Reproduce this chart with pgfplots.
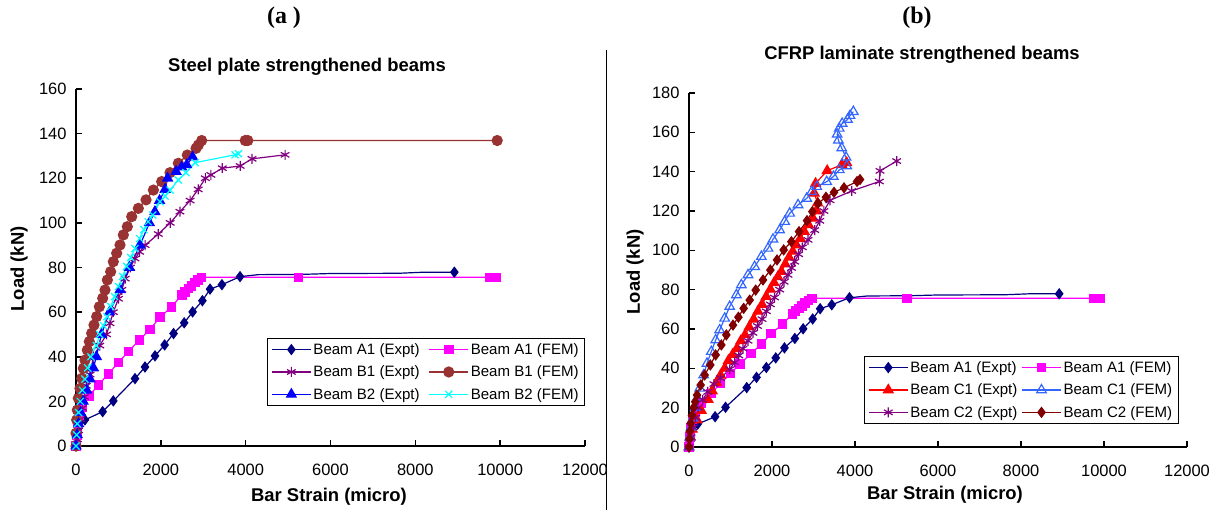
\documentclass[border=0pt]{standalone}
\usepackage{fontspec}
\setmainfont{Liberation Sans}
\newfontfamily\serifb{Liberation Serif}
\usepackage{pgfplots}
\pgfplotsset{compat=1.18}
\definecolor{cnavy}{RGB}{0,0,128}
\definecolor{cmag}{RGB}{255,0,255}
\definecolor{cpur}{RGB}{128,0,128}
\definecolor{cmar}{RGB}{128,0,0}
\definecolor{cmarl}{RGB}{153,51,51}
\definecolor{cblue}{RGB}{0,0,255}
\definecolor{ccyan}{RGB}{0,255,255}
\definecolor{cred}{RGB}{255,0,0}
\definecolor{clblue}{RGB}{51,102,255}
\pgfplotsset{
 mystyle/.style={
  scale only axis, xmin=0, xmax=12000, ymin=0,
  axis x line*=bottom, axis y line*=left,
  axis line style={line width=2.2bp,-},
  tick align=inside, major tick length=6bp,
  every tick/.style={black,line width=1.6bp},
  xtick={0,2000,...,12000},
  tick label style={font=\fontsize{16.5}{18}\selectfont},
  xticklabel style={yshift=-15bp},
  yticklabel style={xshift=-6bp},
  /pgf/number format/assume math mode=true,
  /pgf/number format/1000 sep={},
  scaled x ticks=false,
  clip=false,
  every axis plot/.append style={line width=1.2bp},
  every axis plot post/.append style={mark options={solid}},
  legend columns=2,
  legend cell align=left,
  legend style={font=\fontsize{15.1}{17}\selectfont, draw=black, line width=0.8bp, anchor=north west, inner xsep=4bp, inner ysep=3bp, row sep=6bp},
  legend image code/.code={\draw[mark repeat=2,mark phase=2,##1] plot coordinates {(0bp,0bp) (19.5bp,0bp) (39bp,0bp)};},
 },
 sA1E/.style={color=cnavy, mark=diamond*, mark size=4.8bp, mark options={fill=cnavy}},
 sA1F/.style={color=cmag, mark=square*, mark size=4.2bp, mark options={fill=cmag}},
}
\begin{document}
\begin{tikzpicture}
\useasboundingbox (0bp,0bp) rectangle (1224bp,510bp);
\node[font=\serifb\bfseries\fontsize{24}{26}\selectfont] at (284bp,492bp) {(a )};
\node[font=\serifb\bfseries\fontsize{24}{26}\selectfont] at (917bp,492bp) {(b)};
\draw[line width=0.8bp] (606bp,0bp) -- (606bp,460bp);
\node[font=\bfseries\fontsize{18.5}{20}\selectfont] at (307bp,443bp) {Steel plate strengthened beams};
\node[font=\bfseries\fontsize{18.5}{20}\selectfont] at (922bp,455bp) {CFRP laminate strengthened beams};
\node[font=\bfseries\fontsize{18.5}{20}\selectfont, rotate=90] at (19bp,241bp) {Load (kN)};
\node[font=\bfseries\fontsize{18.5}{20}\selectfont] at (329bp,13bp) {Bar Strain (micro)};
\node[font=\bfseries\fontsize{18.5}{20}\selectfont, rotate=90] at (635bp,238bp) {Load (kN)};
\node[font=\bfseries\fontsize{18.5}{20}\selectfont] at (945bp,15bp) {Bar Strain (micro)};

\begin{axis}[mystyle, at={(76bp,64bp)}, anchor=south west, width=509bp, height=357bp,
  ymax=160, ytick={0,20,...,160},
  legend style={at={(0.375,0.3025)}, /tikz/every even column/.append style={column sep=7bp}}]
\addplot[sA1E] coordinates {(0,0) (30,4) (60,8) (210,11.7) (629,15.4) (880,20.2) (1391,30.2) (1627,35.4) (1863,40.4) (2090,45.3) (2300,50.4) (2550,55.2) (2750,60.1) (2980,65.1) (3160,70.3) (3440,72.3) (3867,75.9)};
\addlegendentry{Beam A1 (Expt)}
\addplot[sA1F] coordinates {(0,0) (20,5) (40,10) (80,14) (157,17.6) (300,22.3) (527,27.3) (762,32.3) (998,37.4) (1234,42.3) (1493,47.5) (1745,52.3) (1981,57.7) (2256,62.4) (2492,67.7) (2570,69) (2650,70.5) (2720,71.8) (2800,73.2) (2880,74.5) (2963,75.6) (5250,75.6) (9750,75.6) (9900,75.6)};
\addlegendentry{Beam A1 (FEM)}
\addplot[color=cpur, mark=asterisk, mark size=5bp] coordinates {(0,0) (30,3) (60,7) (100,12) (150,17) (200,22) (240,27) (330,32) (410,40) (560,45) (720,50) (800,55) (880,60) (1000,66) (1080,70) (1160,75) (1280,80) (1390,84) (1500,87) (1630,90) (1940,95) (2220,100) (2450,105) (2690,110) (2880,115) (3050,120) (3180,121.5) (3450,124.5) (3870,125.5) (4150,128.7) (4930,130.5)};
\addlegendentry{Beam B1 (Expt)}
\addplot[color=cmarl, mark=*, mark size=5bp, mark options={fill=cmar,draw=cmar}] coordinates {(0,0) (0,5.7) (16,11.7) (31,16.1) (55,21.4) (94,25.8) (134,30.3) (173,34.8) (212,38.5) (267,43) (314,46.8) (369,50.5) (424,54.2) (487,58) (550,62.4) (629,66.2) (684,69.9) (739,74.4) (817,78.1) (880,82.6) (959,86.4) (1038,90.1) (1116,94.6) (1210,98.3) (1313,102.8) (1470,106.5) (1651,110.3) (1824,114.7) (2020,118.5) (2217,122.5) (2413,126.7) (2625,130.4) (2830,133.4) (2885,134.9) (2963,136.9) (3990,136.9) (4050,136.9) (9930,136.9)};
\addlegendentry{Beam B1 (FEM)}
\addplot[color=cblue, mark=triangle*, mark size=5.5bp, mark options={fill=cblue}] coordinates {(0,0) (30,5) (60,10) (110,15) (170,20) (250,25) (330,30) (410,35) (480,40) (600,50) (790,60) (1040,70) (1260,80) (1510,90) (1730,100) (1860,105) (1970,110) (2100,115) (2160,120) (2360,123) (2490,125) (2610,126) (2750,129.5)};
\addlegendentry{Beam B2 (Expt)}
\addplot[color=ccyan, mark=x, mark size=5bp] coordinates {(0,0) (15,5) (30,10) (60,15) (100,20) (150,25) (210,30) (275,35) (350,40) (480,45) (560,50) (645,54) (730,58) (818,62.5) (910,67) (1000,71.5) (1100,76) (1195,80.5) (1290,84.5) (1390,88.5) (1500,93) (1600,97) (1700,100.5) (1810,103.5) (1980,109.5) (2100,112) (2220,114.7) (2410,119.2) (2590,122.5) (2810,127) (3750,130.5) (3830,131)};
\addlegendentry{Beam B2 (FEM)}
\addplot[sA1E, forget plot, mark indices={7}] coordinates {(3867,75.9) (4300,76.8) (5300,76.9) (6000,77.3) (7600,77.4) (8200,77.9) (8920,77.9)};
\end{axis}

\begin{axis}[mystyle, at={(689bp,63bp)}, anchor=south west, width=498bp, height=354bp,
  ymax=180, ytick={0,20,...,180},
  legend style={at={(0.351,0.257)}, /tikz/every even column/.append style={column sep=2bp}}]
\addplot[sA1E] coordinates {(0,0) (30,4) (60,8) (210,11.7) (629,15.4) (880,20.2) (1391,30.2) (1627,35.4) (1863,40.4) (2090,45.3) (2300,50.4) (2550,55.2) (2750,60.1) (2980,65.1) (3160,70.3) (3440,72.3) (3867,75.9)};
\addlegendentry{Beam A1 (Expt)}
\addplot[sA1F] coordinates {(0,0) (20,5) (40,10) (80,14) (157,17.6) (300,22.3) (527,27.3) (762,32.3) (998,37.4) (1234,42.3) (1493,47.5) (1745,52.3) (1981,57.7) (2256,62.4) (2492,67.7) (2570,69) (2650,70.5) (2720,71.8) (2800,73.2) (2880,74.5) (2963,75.6) (5250,75.6) (9750,75.6) (9900,75.6)};
\addlegendentry{Beam A1 (FEM)}
\addplot[color=cred, mark=triangle*, mark size=5.5bp, mark options={fill=cred}] coordinates {(0,0) (30,5) (80,9) (193,13.7) (297,18.5) (458,24.2) (560,28.5) (659,32.7) (760,36.5) (860,40) (950,44) (1050,47) (1150,50) (1250,54) (1350,57) (1450,61) (1558,65) (1660,69) (1760,72.5) (1860,76.5) (1960,80.2) (2050,83.5) (2140,86.5) (2225,89.2) (2320,93) (2410,96.5) (2500,99.5) (2587,102.7) (2680,106) (2780,109.5) (2880,113) (2988,116.3) (3080,120) (3100,124) (3020,129) (3050,134) (3330,140.5) (3680,143.5) (3800,144.5)};
\addlegendentry{Beam C1 (Expt)}
\addplot[color=clblue, mark=triangle, mark size=5.5bp, mark options={fill=white, line width=1.2bp}] coordinates {(0,0) (20,5) (50,10) (96,14.6) (150,20) (200,25) (257,29.8) (353,36.6) (434,42.5) (538,48.5) (643,54.4) (739,59.5) (860,65.4) (980,71.4) (1141,77.3) (1261,82.4) (1422,87.5) (1582,91.7) (1743,96.8) (1904,101) (2024,105.6) (2185,110.3) (2305,114.6) (2426,118.8) (2627,123.1) (2836,126.4) (2956,129.8) (3077,132.4) (3318,134.9) (3478,137.5) (3623,140.9) (3800,142.9) (3784,147.3) (3679,152) (3600,156) (3570,159) (3620,162) (3690,164.5) (3820,166.5) (3880,168.5) (3960,170.5)};
\addlegendentry{Beam C1 (FEM)}
\addplot[color=cpur, mark=asterisk, mark size=5bp] coordinates {(0,0) (50,5) (100,10) (160,15) (220,20) (330,24) (450,28) (600,32) (760,35) (980,39.5) (1100,43) (1200,46.5) (1300,50) (1420,54) (1540,58) (1650,61.5) (1760,65) (1864,69) (1960,72.5) (2060,76) (2185,80) (2290,84) (2386,87.5) (2470,91) (2546,94.2) (2640,98) (2730,101.5) (2868,105.3) (3028,110.3) (3150,115) (3250,120) (3398,125.4) (3920,130.2) (4587,135) (4603,140.4) (5004,145.4)};
\addlegendentry{Beam C2 (Expt)}
\addplot[color=cmar, mark=diamond*, mark size=4.8bp, mark options={fill=cmar}] coordinates {(0,0) (10,4) (20,8) (40,12) (70,16) (110,20) (150,23) (193,26.4) (280,31.5) (378,36.6) (514,41.7) (643,46.8) (779,51.9) (900,57) (1060,62) (1190,66) (1317,70.5) (1462,74.7) (1607,79.8) (1783,84.9) (1960,90) (2121,95.1) (2281,100.2) (2466,104.4) (2651,109.5) (2844,115.1) (2972,119.7) (3109,123.9) (3300,127) (3494,129.5) (3735,131.8) (4050,135) (4121,136)};
\addlegendentry{Beam C2 (FEM)}
\addplot[sA1E, forget plot, mark indices={7}] coordinates {(3867,75.9) (4300,76.8) (5300,76.9) (6000,77.3) (7600,77.4) (8200,77.9) (8920,77.9)};
\end{axis}
\end{tikzpicture}
\end{document}
